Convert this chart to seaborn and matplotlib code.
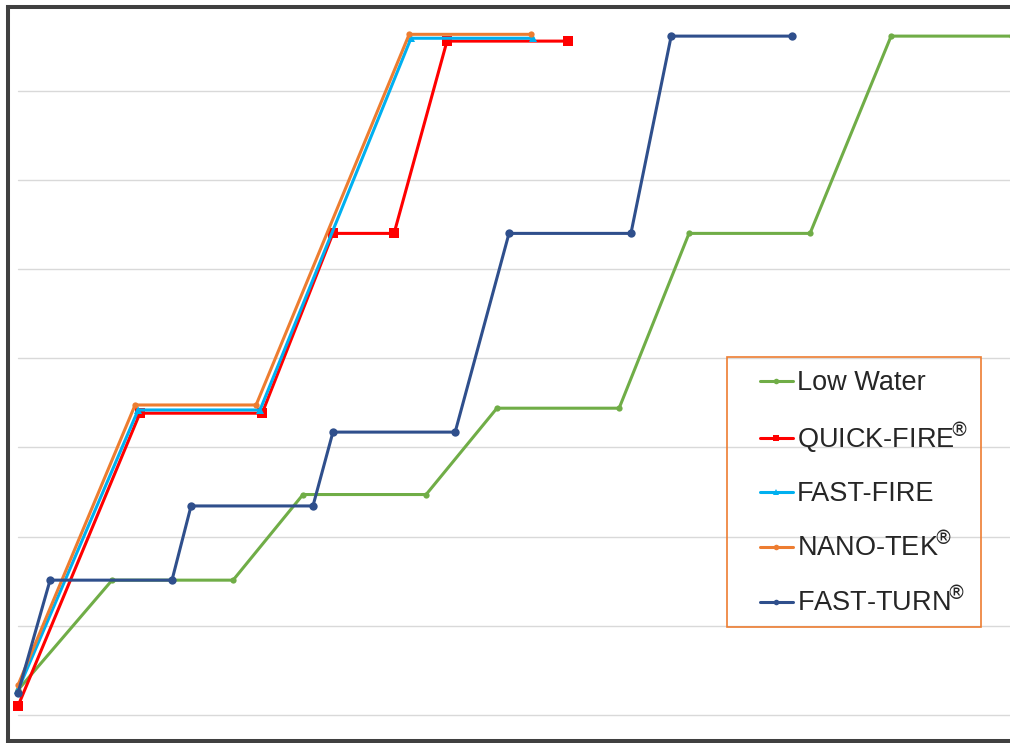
import matplotlib
matplotlib.use("Agg")
import matplotlib.pyplot as plt
from matplotlib.lines import Line2D
from matplotlib.patches import Rectangle
import pandas as pd
import seaborn as sns

# firing schedules (hours, temperature in gridline steps of 250)
low_water_h = [0, 3.11, 7.11, 9.42, 13.49, 15.83, 19.87, 22.18, 26.18, 28.86, 32.86]
low_water_t = [70, 378, 378, 618, 618, 860, 860, 1350, 1350, 1903, 1903]

quick_fire_h = [0, 4.03, 8.07, 10.41, 12.43, 14.18, 18.18]
quick_fire_t = [25, 846, 846, 1350, 1350, 1889, 1889]

fast_fire_h = [0, 3.97, 8.0, 12.99, 17.02]
fast_fire_t = [70, 855, 855, 1897, 1897]

nano_tek_h = [0, 3.87, 7.87, 12.93, 16.96]
nano_tek_t = [84, 869, 869, 1908, 1908]

fast_turn_h = [0, 1.06, 5.09, 5.72, 9.75, 10.41, 14.45, 16.23, 20.26, 21.59, 25.59]
fast_turn_t = [62, 378, 378, 586, 586, 793, 793, 1350, 1350, 1903, 1903]

labels = ["Low Water", r"QUICK-FIRE$\!^{®}$", "FAST-FIRE", r"NANO-TEK$\!^{®}$", r"FAST-TURN$\!^{®}$"]
colors = ["#70AD47", "#FF0000", "#00B0F0", "#ED7D31", "#2F4F8C"]
markers = ["o", "s", "^", "o", "o"]
marker_sizes = [4.5, 6.5, 5.5, 4.5, 6]

series = [
    (low_water_h, low_water_t),
    (quick_fire_h, quick_fire_t),
    (fast_fire_h, fast_fire_t),
    (nano_tek_h, nano_tek_t),
    (fast_turn_h, fast_turn_t),
]

sns.set_style("white")
plt.rcParams["font.family"] = ["Liberation Sans", "DejaVu Sans"]

fig = plt.figure(figsize=(10.10, 7.43), dpi=100)
ax = fig.add_axes([18 / 1010, 28 / 743, 992 / 1010, 706 / 743])

for (hours, temps), label, color, marker, ms in zip(series, labels, colors, markers, marker_sizes):
    df = pd.DataFrame({"hours": hours, "temp": temps})
    sns.lineplot(data=df, x="hours", y="temp", ax=ax, color=color, marker=marker,
                 markersize=ms, markeredgewidth=0, linewidth=2.2, sort=False,
                 estimator=None, label=label, clip_on=False)

ax.set_xlim(0, 32.79)
ax.set_ylim(0, 1979)
ax.set_yticks(range(0, 2000, 250))
ax.yaxis.grid(True, color="#D9D9D9", linewidth=1)
ax.xaxis.grid(False)
ax.set_axisbelow(True)
for gl in ax.get_ygridlines():
    gl.set_clip_on(False)
ax.set_xticks([])
ax.tick_params(left=False, labelleft=False)
ax.set_xlabel("")
ax.set_ylabel("")
for spine in ax.spines.values():
    spine.set_visible(False)

# legend without frame, box drawn separately
leg = ax.legend(loc="upper left", bbox_to_anchor=(760 / 1010, 1 - 370 / 743),
                bbox_transform=fig.transFigure, frameon=False, fontsize=19.5,
                handlelength=1.2, handletextpad=0.15, labelspacing=0.92,
                borderpad=0, borderaxespad=0)
for h in leg.legend_handles:
    h.set_markersize(4)
fig.patches.append(Rectangle((727 / 1010, 1 - 627 / 743), 254 / 1010, 270 / 743,
                             transform=fig.transFigure, fill=False,
                             edgecolor="#ED7D31", linewidth=1.2, figure=fig))

# outer frame of the chart (cropped on the right)
frame_kw = dict(color="#404040", linewidth=2.9, transform=fig.transFigure, solid_capstyle="projecting")
fig.add_artist(Line2D([8 / 1010, 8 / 1010], [1 - 7 / 743, 1 - 741 / 743], **frame_kw))
fig.add_artist(Line2D([8 / 1010, 1.0], [1 - 7 / 743, 1 - 7 / 743], **frame_kw))
fig.add_artist(Line2D([8 / 1010, 1.0], [1 - 741 / 743, 1 - 741 / 743], **frame_kw))

fig.savefig("out.png", dpi=100, facecolor="white")
